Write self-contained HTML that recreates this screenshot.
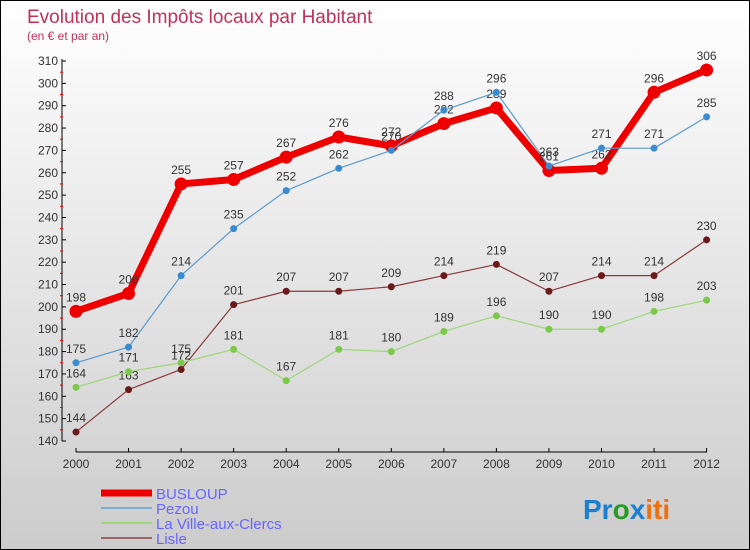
<!DOCTYPE html>
<html><head><meta charset="utf-8"><style>
body{margin:0}
#c{width:750px;height:550px;position:relative;overflow:hidden;box-sizing:border-box;border:1px solid #000;background:linear-gradient(#fff,#ccc);font-family:"Liberation Sans",sans-serif}
</style></head><body>
<div id="c">
<svg id="s" width="750" height="550" style="position:absolute;left:0;top:0">
<text x="26" y="22" font-size="19" fill="#c2305a">Evolution des Impôts locaux par Habitant</text>
<text x="26" y="39" font-size="12" fill="#c2305a">(en € et par an)</text>
<g id="g"></g>
<g>
<line x1="100" y1="492" x2="151" y2="492" stroke="#e00" stroke-width="7"/>
<text x="155" y="498" font-size="15" fill="#6666ff">BUSLOUP</text>
<line x1="100" y1="507" x2="151" y2="507" stroke="#7aaed6" stroke-width="2"/>
<text x="155" y="513" font-size="15" fill="#6666ff">Pezou</text>
<line x1="100" y1="522" x2="151" y2="522" stroke="#9ed67a" stroke-width="2"/>
<text x="155" y="528" font-size="15" fill="#6666ff">La Ville-aux-Clercs</text>
<line x1="100" y1="537" x2="151" y2="537" stroke="#9a6666" stroke-width="2"/>
<text x="155" y="543" font-size="15" fill="#6666ff">Lisle</text>
</g>
<text x="582" y="518" font-size="28" font-weight="bold"><tspan fill="#1a7fd0">Pr</tspan><tspan fill="#2a9a2a">o</tspan><tspan fill="#1a7fd0">x</tspan><tspan fill="#f07010">iti</tspan></text>
</svg>
</div>
<script>
const years=["2000","2001","2002","2003","2004","2005","2006","2007","2008","2009","2010","2011","2012"];
const busloup=[198,206,255,257,267,276,272,282,289,261,262,296,306];
const pezou=[175,182,214,235,252,262,270,288,296,263,271,271,285];
const lvac=[164,171,175,181,167,181,180,189,196,190,190,198,203];
const lisle=[144,163,172,201,207,207,209,214,219,207,214,214,230];
const yTicks=[140,150,160,170,180,190,200,210,220,230,240,250,260,270,280,290,300,310];
const NS="http://www.w3.org/2000/svg";
const g=document.getElementById('g');
const X=i=>75+i*52.55;
const Y=v=>440-(v-140)*380/170;
function el(t,a){const e=document.createElementNS(NS,t);for(const k in a)e.setAttribute(k,a[k]);g.appendChild(e);return e;}
let ax=el('line',{x1:61,y1:58,x2:61,y2:440,stroke:'#000'});


let xa=el('line',{x1:75,y1:451,x2:706,y2:451,stroke:'#000'});


yTicks.forEach(v=>{
 el('line',{x1:61,y1:Y(v),x2:65,y2:Y(v),stroke:'#000'});
 if(v<310)el('line',{x1:59,y1:Y(v+5),x2:62,y2:Y(v+5),stroke:'#e00'});
 const t=el('text',{x:57,y:Y(v)+4,'font-size':12,fill:'#333','text-anchor':'end'});
 t.textContent=v;
 
 
});
years.forEach((y,i)=>{
 el('line',{x1:X(i),y1:447,x2:X(i),y2:451,stroke:'#000'});
 const t=el('text',{x:X(i),y:467,'font-size':12,fill:'#333','text-anchor':'middle'});
 t.textContent=y;
 
 
});
function series(d,color,w,r,dot,name){
 const p=el('polyline',{points:d.map((v,i)=>X(i)+','+Y(v)).join(' '),fill:'none',stroke:color,'stroke-width':w,'stroke-linejoin':'round'});
 
 
 d.forEach((v,i)=>{
  const c=el('circle',{cx:X(i),cy:Y(v),r:r,fill:dot});
  
  
  const t=el('text',{x:X(i),y:Y(v)-10,'font-size':12,fill:'#333','text-anchor':'middle'});
  t.textContent=v;
  
  
 });
}
series(lisle,'#8a3a3a',1.2,3.5,'#6a1a1a','lisle');
series(lvac,'#9ed67a',1.2,3.5,'#7cc84a','la-ville-aux-clercs');
series(busloup,'#e00',7,6.5,'#e00','busloup');
series(pezou,'#5a9ad0',1.2,3.5,'#3a8ad0','pezou');
</script>
</body></html>
